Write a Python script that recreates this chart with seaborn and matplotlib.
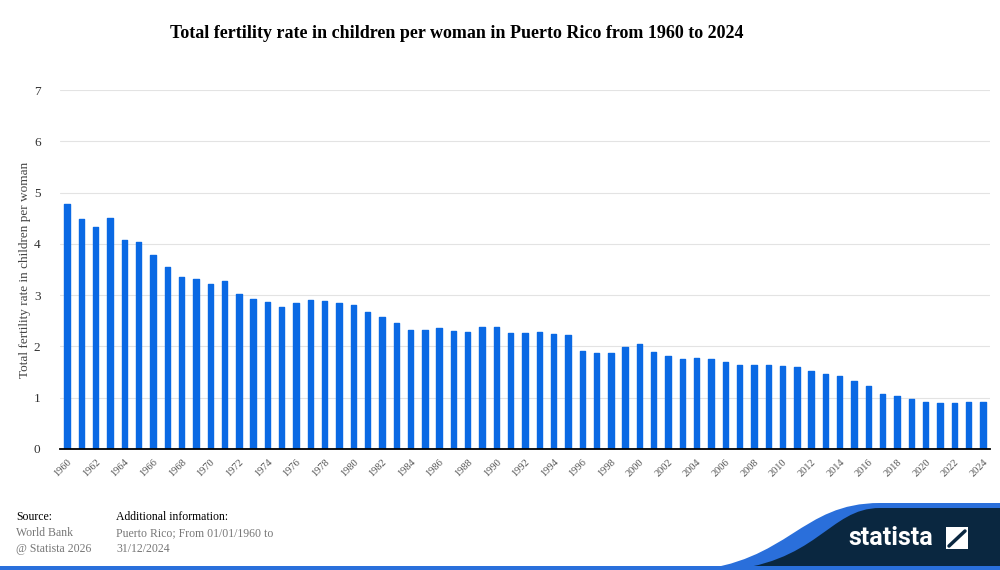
"""Total fertility rate in Puerto Rico, 1960-2024 (Statista style bar chart)."""
import matplotlib
matplotlib.use('Agg')
import matplotlib.pyplot as plt
from matplotlib.path import Path
from matplotlib.patches import PathPatch, Rectangle
import pandas as pd
import seaborn as sns

years = list(range(1960, 2025))
fertility = [
    4.78, 4.49, 4.33, 4.51, 4.08, 4.03, 3.79, 3.55, 3.36, 3.31,
    3.22, 3.27, 3.03, 2.92, 2.86, 2.76, 2.84, 2.90, 2.88, 2.84,
    2.80, 2.68, 2.58, 2.45, 2.32, 2.32, 2.35, 2.31, 2.29, 2.37,
    2.37, 2.27, 2.27, 2.29, 2.25, 2.23, 1.92, 1.88, 1.88, 1.98,
    2.04, 1.90, 1.81, 1.75, 1.77, 1.75, 1.69, 1.63, 1.63, 1.63,
    1.61, 1.59, 1.52, 1.46, 1.42, 1.32, 1.22, 1.08, 1.03, 0.97,
    0.91, 0.89, 0.89, 0.91, 0.91,
]
y_ticks = [0, 1, 2, 3, 4, 5, 6, 7]

title = 'Total fertility rate in children per woman in Puerto Rico from 1960 to 2024'
y_label = 'Total fertility rate in children per woman'

BLUE = '#0a69e4'
NAVY = '#0a2740'
SERIF = ['Liberation Serif', 'DejaVu Serif']

sns.set_theme(style='white')
plt.rcParams['font.family'] = SERIF

df = pd.DataFrame({'year': [str(y) for y in years], 'rate': fertility})

fig = plt.figure(figsize=(10, 5.7), dpi=100)
ax = fig.add_axes([0.06, 0.2123, 0.93, 0.6298])

sns.barplot(data=df, x='year', y='rate', color=BLUE, width=0.38,
            saturation=1, ax=ax, edgecolor=BLUE, linewidth=1.0)
for bar in ax.patches:
    bar.set_joinstyle('round')

ax.set_ylim(0, 7)
ax.set_xlim(-0.5, len(years) - 0.5)
ax.set_yticks(y_ticks)
ax.set_yticklabels([str(t) for t in y_ticks], fontsize=9.5, color='#333333')
ax.yaxis.grid(True, color='#e3e3e3', linewidth=0.8)
ax.set_axisbelow(True)
ax.tick_params(axis='y', length=0, pad=14)

tick_pos = list(range(0, len(years), 2))
ax.set_xticks(tick_pos)
ax.set_xticklabels([str(years[i]) for i in tick_pos], rotation=45,
                   fontsize=7.5, color='#555555', ha='right',
                   rotation_mode='anchor')
ax.tick_params(axis='x', length=0, pad=6)

for side in ['top', 'right', 'left']:
    ax.spines[side].set_visible(False)
ax.spines['bottom'].set_color('black')
ax.spines['bottom'].set_linewidth(1.3)

ax.set_xlabel('')
ax.set_ylabel(y_label, fontsize=9.5, color='#444444', labelpad=2)

fig.text(0.457, 0.942, title, ha='center', va='center', fontsize=13,
         fontweight='bold', color='black')

# footer
fig.text(0.016, 0.088, 'Source:', fontsize=8.5, color='black')
fig.text(0.016, 0.060, 'World Bank', fontsize=8.5, color='#777777')
fig.text(0.016, 0.032, '@ Statista 2026', fontsize=8.5, color='#777777')
fig.text(0.116, 0.088, 'Additional information:', fontsize=8.5, color='black')
fig.text(0.116, 0.060, 'Puerto Rico; From 01/01/1960 to', fontsize=8.5, color='#777777')
fig.text(0.116, 0.032, '31/12/2024', fontsize=8.5, color='#777777')


def px(x, y):
    return (x / 1000, 1 - y / 570)


def wave(x0, top, shift):
    verts = [px(x0, 571), px(x0 + 100, 562 + shift), px(x0 + 110, top),
             px(880, top), px(1001, top), px(1001, 571), px(x0, 571)]
    codes = [Path.MOVETO, Path.CURVE4, Path.CURVE4, Path.CURVE4,
             Path.LINETO, Path.LINETO, Path.CLOSEPOLY]
    return PathPatch(Path(verts, codes), transform=fig.transFigure,
                     linewidth=0, zorder=1)


blue_wave = wave(690, 503, 0)
blue_wave.set_facecolor('#2a6fdb')
fig.patches.append(blue_wave)
navy_wave = wave(718, 508, 3)
navy_wave.set_facecolor(NAVY)
fig.patches.append(navy_wave)
fig.patches.append(Rectangle((0, 0), 1, 4 / 570, transform=fig.transFigure,
                             facecolor='#2a6fdb', linewidth=0, zorder=2))

fig.text(0.891, 0.057, 'statista', fontsize=18, fontweight='bold',
         color='white', ha='center', va='center',
         family=['Roboto', 'DejaVu Sans'], zorder=3)
fig.patches.append(Rectangle(px(946, 549), 0.022, 22 / 570,
                             transform=fig.transFigure, facecolor='white',
                             linewidth=0, zorder=3))
fig.lines.append(plt.Line2D([0.949, 0.965], [1 - 546 / 570, 1 - 531 / 570],
                            transform=fig.transFigure, color=NAVY,
                            linewidth=2.5, zorder=4))

fig.savefig('out.png', dpi=100, facecolor='white')
